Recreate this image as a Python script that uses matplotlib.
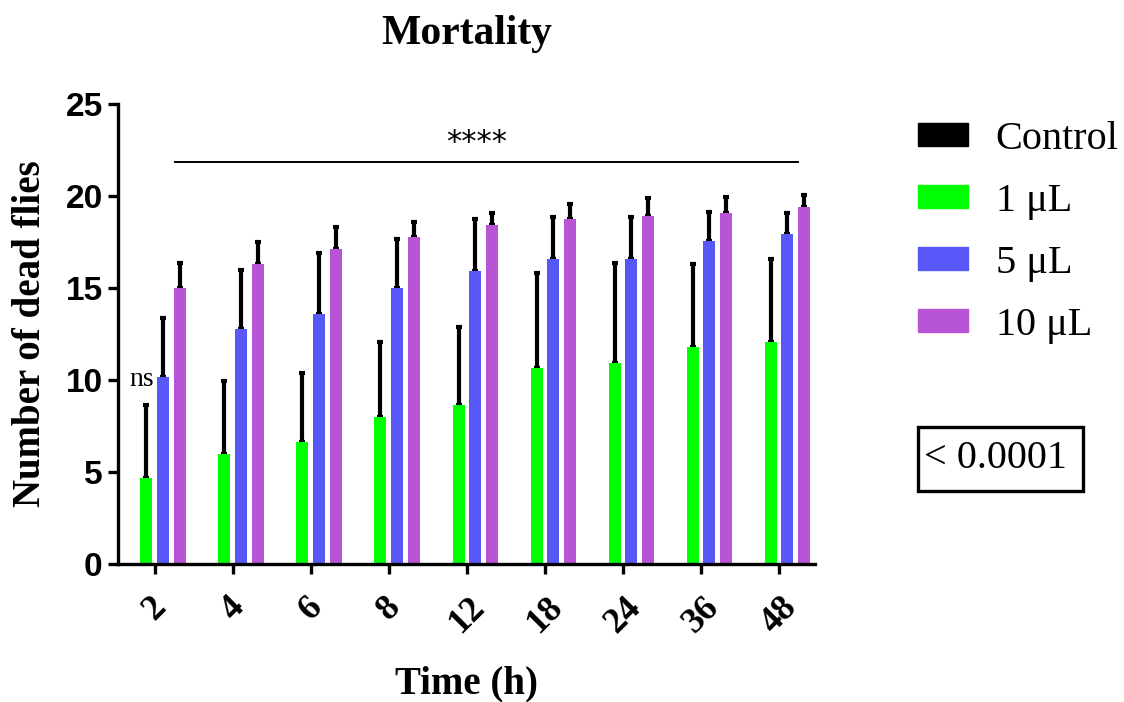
import matplotlib
matplotlib.use("Agg")
import matplotlib.pyplot as plt
import numpy as np
from matplotlib.patches import Patch, Rectangle

times = ["2", "4", "6", "8", "12", "18", "24", "36", "48"]
series_names = ["Control", "1 μL", "5 μL", "10 μL"]
control_mean = [0, 0, 0, 0, 0, 0, 0, 0, 0]
control_sd = [0, 0, 0, 0, 0, 0, 0, 0, 0]
ul1_mean = [4.67, 6.0, 6.65, 8.0, 8.64, 10.63, 10.94, 11.78, 12.08]
ul1_sd = [3.97, 3.96, 3.75, 4.05, 4.22, 5.2, 5.4, 4.52, 4.52]
ul5_mean = [10.15, 12.77, 13.6, 15.0, 15.92, 16.6, 16.6, 17.57, 17.92]
ul5_sd = [3.2, 3.23, 3.3, 2.66, 2.83, 2.28, 2.28, 1.58, 1.14]
ul10_mean = [15.0, 16.3, 17.1, 17.77, 18.42, 18.77, 18.93, 19.1, 19.42]
ul10_sd = [1.38, 1.2, 1.2, 0.8, 0.64, 0.8, 0.94, 0.83, 0.62]
colors = ["#000000", "#00FF00", "#5858F8", "#B855D6"]

means = [control_mean, ul1_mean, ul5_mean, ul10_mean]
sds = [control_sd, ul1_sd, ul5_sd, ul10_sd]

serif = ["Liberation Serif", "DejaVu Serif"]
sans = ["Liberation Sans", "DejaVu Sans"]

fig = plt.figure(figsize=(11.24, 7.02), dpi=100)
ax = fig.add_axes([118/1124, 1-564/702, (815-118)/1124, (564-104)/702])

x = np.arange(len(times))
step = 0.214
width = 0.154
for i, (m, s, c) in enumerate(zip(means, sds, colors)):
    pos = x + (i - 1.5) * step
    m = np.asarray(m, dtype=float)
    s = np.asarray(s, dtype=float)
    ax.bar(pos, m, width=width, color=c, zorder=2)
    keep = s > 0
    if keep.any():
        ax.errorbar(pos[keep], m[keep], yerr=[np.zeros(keep.sum()), s[keep]], fmt="none",
                    ecolor="black", elinewidth=3, capsize=2.5, capthick=3, zorder=1)

ax.set_xlim(-0.47, 8.46)
ax.set_ylim(0, 25)
ax.set_yticks([0, 5, 10, 15, 20, 25])
ax.set_xticks(x)
ax.set_xticklabels(times, rotation=45, family=serif, fontweight="bold", fontsize=26,
                   ha="center", va="top")
for lab in ax.get_yticklabels():
    lab.set_family(sans)
    lab.set_fontweight("bold")
    lab.set_fontsize(24)
for sp in ["top", "right"]:
    ax.spines[sp].set_visible(False)
for sp in ["left", "bottom"]:
    ax.spines[sp].set_linewidth(2.4)
ax.tick_params(axis="both", width=2.4, length=7)
ax.tick_params(axis="x", pad=12)
ax.tick_params(axis="y", pad=4)

ax.set_xlabel("Time (h)", family=serif, fontweight="bold", fontsize=28, labelpad=19)
ax.set_ylabel("Number of dead flies", family=serif, fontweight="bold", fontsize=28, labelpad=12)
ax.set_title("Mortality", family=serif, fontweight="bold", fontsize=30, pad=43)

# significance annotation
ax.plot([0.256, 8.24], [21.85, 21.85], color="black", lw=1.4, clip_on=False)
ax.text(4.12, 22.1, "****", ha="center", va="bottom", fontsize=22, family=["DejaVu Sans"])
ax.text(-0.17, 10.05, "ns", ha="center", va="center", fontsize=20, family=serif)

handles = [Patch(facecolor=c, edgecolor=c) for c in colors]
leg = fig.legend(handles, series_names, loc="upper left",
                 bbox_to_anchor=(918/1124, 1-121/702), frameon=False,
                 prop={"family": serif, "size": 29},
                 handlelength=1.25, handleheight=0.5, handletextpad=0.68,
                 labelspacing=0.62, borderpad=0, borderaxespad=0)

fig.patches.append(Rectangle((918/1124, 1-491/702), (1083-918)/1124, (491-427)/702,
                             transform=fig.transFigure, fill=False, edgecolor="black",
                             lw=2.4))
fig.text(924/1124, 1-459/702, "< 0.0001", family=serif, fontsize=29, va="center", ha="left")

fig.savefig("out.png", dpi=100)
